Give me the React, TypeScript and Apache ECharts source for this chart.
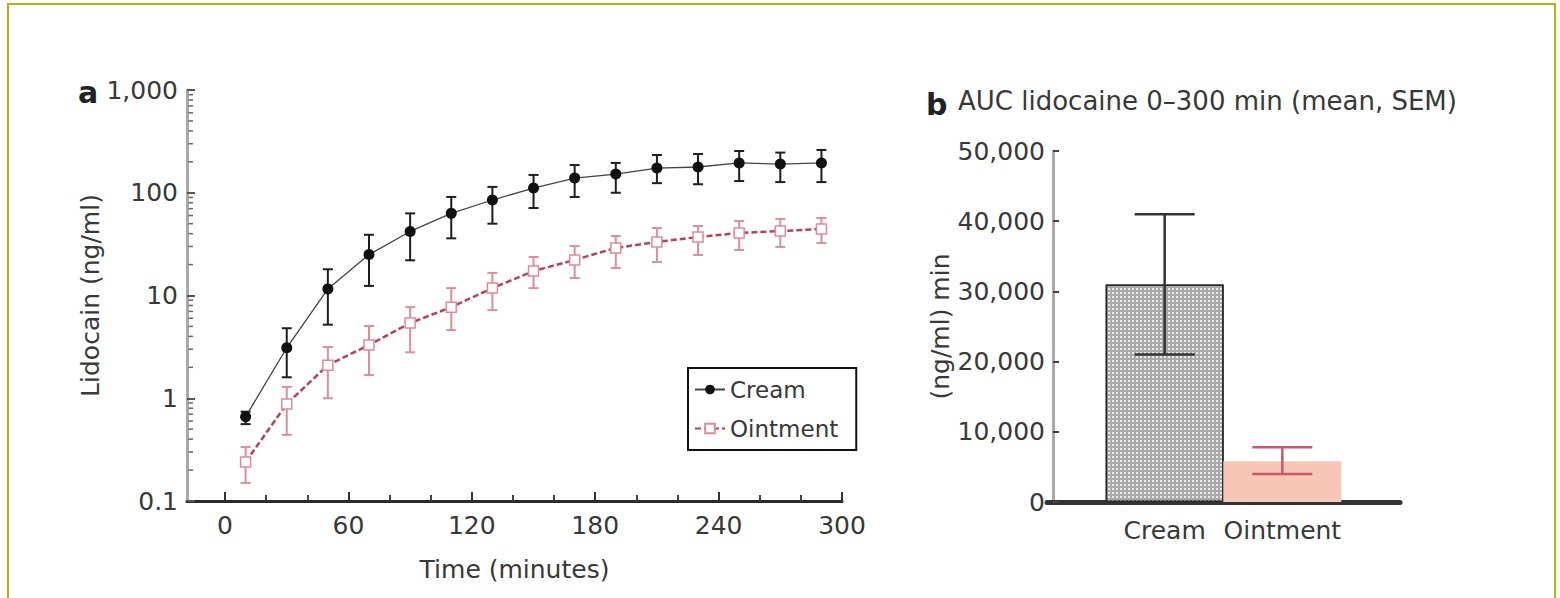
import React, { useEffect, useRef } from 'react';
import * as echarts from 'echarts';

// ---------- Panel a: plasma lidocaine over time ----------
const times = [10, 30, 50, 70, 90, 110, 130, 150, 170, 190, 210, 230, 250, 270, 290];
const creamMean = [0.66, 3.1, 11.6, 25, 42, 63, 85, 111, 139, 152, 174, 178, 195, 190, 195];
const creamLow = [0.56, 1.6, 5.2, 12.4, 22, 36, 50, 71, 91, 100, 124, 121, 130, 127, 127];
const creamHigh = [0.74, 4.8, 18, 39, 63, 91, 114, 149, 186, 195, 233, 238, 255, 246, 261];
const ointMean = [0.24, 0.88, 2.1, 3.3, 5.4, 7.7, 11.8, 17.3, 22.2, 29, 33.2, 37.1, 40.6, 42.4, 44.4];
const ointLow = [0.15, 0.44, 1.0, 1.68, 2.8, 4.6, 7.2, 11.8, 14.8, 18.5, 21.2, 24.8, 27.7, 29.7, 32.4];
const ointHigh = [0.335, 1.29, 3.15, 5.05, 7.7, 11.8, 16.6, 23.7, 30.3, 37.9, 45.4, 47.5, 53.1, 55.6, 56.8];

const seriesNames = ['Cream', 'Ointment'];
const xMajorTicks = [0, 60, 120, 180, 240, 300];
const xMinorTicks = [20, 40, 80, 100, 140, 160, 200, 220, 260, 280];
const yLogTicks = [0.1, 1, 10, 100, 1000];
const yLogTickLabels = ['0.1', '1', '10', '100', '1,000'];
const yLogMinorTicks = [
  0.2, 0.3, 0.4, 0.5, 0.6, 0.7, 0.8, 0.9,
  2, 3, 4, 5, 6, 7, 8, 9,
  20, 30, 40, 50, 60, 70, 80, 90,
  200, 300, 400, 500, 600, 700, 800, 900,
];

// ---------- Panel b: AUC ----------
const barCategories = ['Cream', 'Ointment'];
const aucMean = [31000, 5800];
const aucLow = [21000, 4000];
const aucHigh = [41000, 7800];
const aucTicks = [0, 10000, 20000, 30000, 40000, 50000];
const aucTickLabels = ['0', '10,000', '20,000', '30,000', '40,000', '50,000'];

const FONT = 'DejaVu Sans';
const TXT = '#383838';
const X_MIN = -18.5;

function errorBarRenderer(colors: string[], capHalf: number, width: number) {
  return (params: any, api: any) => {
    const x = api.value(0);
    const lo = api.coord([x, api.value(1)]);
    const hi = api.coord([x, api.value(2)]);
    const c = colors[params.dataIndex % colors.length];
    const st = { stroke: c, lineWidth: width };
    return {
      type: 'group',
      children: [
        { type: 'line', shape: { x1: lo[0], y1: lo[1], x2: hi[0], y2: hi[1] }, style: st },
        { type: 'line', shape: { x1: lo[0] - capHalf, y1: lo[1], x2: lo[0] + capHalf, y2: lo[1] }, style: st },
        { type: 'line', shape: { x1: hi[0] - capHalf, y1: hi[1], x2: hi[0] + capHalf, y2: hi[1] }, style: st },
      ],
    };
  };
}

export default function App() {
  const ref = useRef<HTMLDivElement>(null);

  useEffect(() => {
    if (!ref.current) return;
    const chart = echarts.init(ref.current, null, { renderer: 'svg' });

    const option: any = {
      animation: false,
      backgroundColor: '#ffffff',
      textStyle: { fontFamily: FONT, color: TXT },
      grid: [
        { left: 187, right: 718, top: 90, bottom: 97 },
        { left: 1047, right: 160, top: 151, bottom: 96 },
      ],
      legend: {
        data: seriesNames,
        orient: 'vertical',
        left: 688,
        top: 368,
        padding: [10, 18, 10, 6],
        itemGap: 16,
        itemWidth: 30,
        itemHeight: 12,
        borderColor: '#111',
        borderWidth: 2,
        textStyle: { fontSize: 23, color: TXT, fontFamily: FONT },
      },
      xAxis: [
        {
          gridIndex: 0,
          type: 'value',
          position: 'bottom',
          min: X_MIN,
          max: 300,
          axisLine: { show: true, onZero: false, lineStyle: { color: '#2b2b2b', width: 3 } },
          axisTick: { show: true, customValues: xMajorTicks, inside: true, length: 9, lineStyle: { color: '#333', width: 2 } },
          axisLabel: { customValues: xMajorTicks, fontSize: 25, color: TXT, fontFamily: FONT, margin: 12 },
          splitLine: { show: false },
          name: 'Time (minutes)',
          nameLocation: 'middle',
          nameGap: 56,
          nameTextStyle: { fontSize: 25, color: TXT, fontFamily: FONT },
        },
        {
          gridIndex: 0,
          type: 'value',
          position: 'bottom',
          min: X_MIN,
          max: 300,
          axisLine: { show: false, onZero: false },
          axisTick: { show: true, customValues: xMinorTicks, inside: true, length: 6, lineStyle: { color: '#444', width: 2 } },
          axisLabel: { show: false },
          splitLine: { show: false },
        },
        {
          gridIndex: 1,
          type: 'value',
          position: 'bottom',
          min: 0,
          max: 3,
          axisLine: { show: true, onZero: false, lineStyle: { color: '#333', width: 5 } },
          axisTick: { show: false },
          axisLabel: {
            customValues: [1, 2],
            formatter: (v: number) => barCategories[Math.round(v) - 1] ?? '',
            fontSize: 25,
            color: TXT,
            fontFamily: FONT,
            margin: 16,
          },
          splitLine: { show: false },
        },
      ],
      yAxis: [
        {
          gridIndex: 0,
          type: 'log',
          logBase: 10,
          min: 0.1,
          max: 1000,
          axisLine: { show: true, onZero: false, lineStyle: { color: '#a9a9a9', width: 3 } },
          axisTick: { show: true, inside: true, length: 8, lineStyle: { color: '#555', width: 2 } },
          axisLabel: {
            fontSize: 25,
            color: TXT,
            fontFamily: FONT,
            margin: 9,
            formatter: (v: number) => {
              const i = yLogTicks.findIndex((t) => Math.abs(Math.log10(t) - Math.log10(v)) < 1e-6);
              return i >= 0 ? yLogTickLabels[i] : '';
            },
          },
          splitLine: { show: false },
          name: 'Lidocain (ng/ml)',
          nameLocation: 'middle',
          nameGap: 64,
          nameTextStyle: { fontSize: 25, color: TXT, fontFamily: FONT },
        },
        {
          gridIndex: 1,
          type: 'value',
          min: 0,
          max: 50000,
          interval: 10000,
          offset: -6,
          axisLine: { show: true, onZero: false, lineStyle: { color: '#aaaaaa', width: 3 } },
          axisTick: { show: true, inside: true, length: 6, lineStyle: { color: '#444', width: 2 } },
          axisLabel: {
            fontSize: 25,
            color: TXT,
            fontFamily: FONT,
            margin: 8,
            formatter: (v: number) => {
              const i = aucTicks.indexOf(v);
              return i >= 0 ? aucTickLabels[i] : '';
            },
          },
          splitLine: { show: false },
          name: '(ng/ml) min',
          nameLocation: 'middle',
          nameGap: 100,
          nameTextStyle: { fontSize: 25, color: TXT, fontFamily: FONT },
        },
      ],
      series: [
        {
          type: 'custom',
          name: 'yMinorTicks',
          xAxisIndex: 0,
          yAxisIndex: 0,
          silent: true,
          z: 3,
          data: yLogMinorTicks.map((v) => [X_MIN, v]),
          encode: { x: 0, y: 1 },
          renderItem: (params: any, api: any) => {
            const p = api.coord([api.value(0), api.value(1)]);
            return {
              type: 'line',
              shape: { x1: p[0] + 1.5, y1: p[1], x2: p[0] + 6, y2: p[1] },
              style: { stroke: '#666', lineWidth: 1.5 },
            };
          },
        },
        {
          type: 'custom',
          name: 'creamErr',
          xAxisIndex: 0,
          yAxisIndex: 0,
          silent: true,
          z: 2,
          data: times.map((t, i) => [t, creamLow[i], creamHigh[i]]),
          encode: { x: 0, y: [1, 2] },
          renderItem: errorBarRenderer(['#1e1e1e'], 5, 2),
        },
        {
          type: 'custom',
          name: 'ointErr',
          xAxisIndex: 0,
          yAxisIndex: 0,
          silent: true,
          z: 2,
          data: times.map((t, i) => [t, ointLow[i], ointHigh[i]]),
          encode: { x: 0, y: [1, 2] },
          renderItem: errorBarRenderer(['#dc8e9b'], 5, 2),
        },
        {
          type: 'line',
          name: seriesNames[0],
          xAxisIndex: 0,
          yAxisIndex: 0,
          z: 5,
          data: times.map((t, i) => [t, creamMean[i]]),
          symbol: 'circle',
          symbolSize: 11,
          itemStyle: { color: '#111111' },
          lineStyle: { color: '#444444', width: 1.3 },
        },
        {
          type: 'line',
          name: seriesNames[1],
          xAxisIndex: 0,
          yAxisIndex: 0,
          z: 4,
          data: times.map((t, i) => [t, ointMean[i]]),
          symbol: 'rect',
          symbolSize: 10,
          itemStyle: { color: '#ffffff', borderColor: '#e0899a', borderWidth: 1.5 },
          lineStyle: { color: '#b8405a', width: 2.5, type: [6, 3] },
        },
        {
          type: 'bar',
          name: 'AUC',
          xAxisIndex: 2,
          yAxisIndex: 1,
          barWidth: 118,
          z: 2,
          data: barCategories.map((c, i) => ({
            name: c,
            value: [i + 1, aucMean[i]],
            itemStyle:
              i === 0
                ? {
                    color: '#a9a9a9',
                    borderColor: '#2a2a2a',
                    borderWidth: 1.5,
                    decal: {
                      symbol: 'rect',
                      symbolSize: 1,
                      color: 'rgba(255,255,255,0.75)',
                      dashArrayX: [2, 2],
                      dashArrayY: [2, 2],
                    },
                  }
                : { color: '#f8c6b6', borderWidth: 0 },
          })),
        },
        {
          type: 'custom',
          name: 'aucErr',
          xAxisIndex: 2,
          yAxisIndex: 1,
          silent: true,
          z: 6,
          data: barCategories.map((c, i) => [i + 1, aucLow[i], aucHigh[i]]),
          encode: { x: 0, y: [1, 2] },
          renderItem: errorBarRenderer(['#333333', '#c9596a'], 30, 2.5),
        },
      ],
      graphic: [
        {
          type: 'rect',
          silent: true,
          shape: { x: 8, y: 4, width: 1547, height: 640 },
          style: { fill: 'none', stroke: '#b2b21c', lineWidth: 2 },
        },
        {
          type: 'text',
          x: 78,
          y: 92,
          style: { text: 'a', fontSize: 30, fontWeight: 'bold', fontFamily: FONT, fill: '#222', textVerticalAlign: 'middle' },
        },
        {
          type: 'text',
          x: 926,
          y: 104,
          style: { text: 'b', fontSize: 30, fontWeight: 'bold', fontFamily: FONT, fill: '#222', textVerticalAlign: 'middle' },
        },
        {
          type: 'text',
          x: 958,
          y: 101,
          style: { text: 'AUC lidocaine 0–300 min (mean, SEM)', fontSize: 26, fontFamily: FONT, fill: TXT, textVerticalAlign: 'middle' },
        },
      ],
    };

    chart.setOption(option);
    return () => chart.dispose();
  }, []);

  return (
    <div
      ref={ref}
      style={{ position: 'fixed', left: 0, top: 0, width: 1560, height: 598, background: '#fff' }}
    />
  );
}
